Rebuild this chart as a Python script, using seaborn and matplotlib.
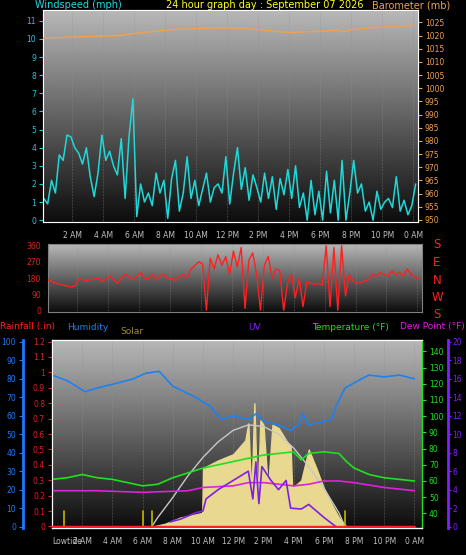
import numpy as np
import pandas as pd
import matplotlib
matplotlib.use("Agg")
import matplotlib.pyplot as plt
import seaborn as sns

sns.set_style("dark")
plt.rcParams["font.family"] = ["DejaVu Sans"]
plt.rcParams["font.size"] = 5.5

# ---- data ----
wind_speed = [1.2, 0.9, 2.2, 1.5, 3.6, 3.3, 4.7, 4.6, 4.0, 3.7, 3.1, 4.0,
              2.4, 1.3, 2.6, 4.7, 3.3, 3.8, 3.0, 2.5, 4.5, 1.2, 4.6, 6.7,
              0.2, 2.0, 1.0, 1.5, 0.8, 2.6, 1.5, 2.2, 0.1, 2.3, 3.3, 0.5,
              1.5, 3.5, 1.2, 2.2, 0.8, 1.7, 2.6, 1.0, 1.8, 2.0, 1.5, 3.5,
              0.9, 2.6, 4.0, 1.7, 2.9, 1.1, 2.5, 1.8, 1.0, 2.6, 1.2, 2.4,
              0.6, 2.3, 1.4, 2.8, 1.2, 3.0, 0.7, 1.5, 0.0, 2.2, 0.3, 1.6,
              0.0, 2.7, 0.4, 2.2, 0.0, 3.3, 0.0, 1.5, 3.3, 1.5, 2.0, 0.5,
              1.0, 0.0, 1.6, 0.6, 1.0, 1.2, 0.7, 2.4, 0.5, 1.1, 0.3, 0.8, 2.0]
wind_hours = [0.15 + 0.25 * i for i in range(len(wind_speed))]

baro_hours = [0, 1, 2, 3, 4, 5, 6, 7, 8, 9, 10, 11, 12, 13, 14, 15, 16, 17,
              18, 19, 19.5, 20, 21, 22, 23, 24]
baro_mb = [1019.0, 1019.2, 1019.5, 1019.6, 1019.8, 1020.0, 1020.8, 1021.4,
           1022.0, 1022.4, 1022.6, 1022.9, 1023.0, 1022.7, 1022.2, 1021.6,
           1021.2, 1021.4, 1021.6, 1022.0, 1021.5, 1022.2, 1022.8, 1023.2,
           1023.4, 1024.0]

dir_deg = [170, 160, 150, 145, 140, 135, 130, 135, 175, 170, 165, 170,
           175, 180, 160, 175, 190, 170, 150, 180, 200, 185, 170, 190,
           210, 180, 175, 200, 170, 190, 200, 175, 180, 165, 190, 200,
           180, 230, 250, 270, 260, 0, 290, 230, 310, 250, 300, 200,
           330, 240, 350, 10, 280, 320, 200, 0, 250, 300, 180, 230,
           220, 0, 150, 200, 70, 180, 20, 160, 150, 145, 150, 140,
           360, 20, 350, 0, 360, 80, 200, 160, 150, 155, 165, 170,
           200, 190, 210, 200, 190, 220, 200, 210, 190, 230, 200, 185, 175]
dir_hours = [0.1 + 0.25 * i for i in range(len(dir_deg))]

hum_hours = [0, 1, 2.2, 3, 4, 5.4, 6.2, 7.1, 8, 9, 9.5, 10.5, 11.2, 12, 13,
             13.5, 14, 15, 15.8, 16.3, 16.6, 17, 18, 18.5, 18.8, 19.4,
             20.5, 21, 22, 23, 24]
humidity = [82, 79, 73, 75, 77, 80, 83, 84, 76, 72, 70, 65, 58, 60, 58,
            61, 57, 55, 52, 55, 61, 55, 57, 58, 65, 75, 80, 82, 81, 82, 80]

temp_hours = [0, 1, 2, 3, 4, 5, 6, 7, 8, 9, 10, 11, 12, 13, 14, 15, 16,
              16.5, 17, 18, 19, 19.5, 20, 21, 22, 23, 24]
temperature = [61, 62, 64, 62, 61, 59, 57, 58, 62, 65, 68, 70, 72, 74, 76,
               77, 78, 73, 77, 78, 77, 72, 68, 64, 62, 61, 60]

dew_hours = [0, 3, 6, 9, 10, 12, 13, 14, 15, 16, 17, 18, 19, 20, 22, 24]
dew_point = [54, 54, 53, 54, 56, 57, 59, 59, 58, 57, 58, 60, 60, 59, 56, 54]

uv_hours = [7.8, 8.5, 9.5, 10.0, 10.2, 11, 12, 13, 13.3, 13.5, 13.7, 13.9,
            14.1, 14.5, 15, 15.5, 15.8, 16.5, 17, 18, 18.8]
uv_index = [0.5, 0.8, 1.5, 1.7, 3.0, 4.0, 5.0, 6.0, 3.0, 7.0, 2.5, 6.5,
            6.0, 5.0, 4.0, 5.0, 2.0, 1.9, 2.4, 1.0, 0.0]

solar_hours = [6.6, 7.5, 8.5, 9.5, 9.95, 10.0, 11, 12, 12.8, 13.0, 13.2,
               13.4, 13.6, 13.8, 14.0, 14.3, 14.6, 15.0, 15.5, 15.8, 15.9,
               16.5, 17, 17.5, 18, 18.5, 19, 19.5]
solar = [0, 20, 60, 80, 90, 380, 430, 470, 560, 670, 200, 800, 150, 690,
         660, 250, 660, 640, 560, 520, 250, 300, 500, 380, 250, 150, 60, 0]

clear_hours = [6.6, 7, 8, 9, 10, 11, 12, 13, 14, 15, 16, 17, 18, 19, 19.4]
clear_sky = [0, 60, 190, 330, 450, 550, 625, 660, 650, 600, 510, 390, 250,
             90, 0]

rain_hours = [0, 24]
rainfall = [0, 0]

tick_hours = [2, 4, 6, 8, 10, 12, 14, 16, 18, 20, 22, 24]
tick_labels = ["2 AM", "4 AM", "6 AM", "8 AM", "10 AM", "12 PM", "2 PM",
               "4 PM", "6 PM", "8 PM", "10 PM", "0 AM"]

W, H = 466, 555
fig = plt.figure(figsize=(W / 100, H / 100), dpi=100, facecolor="black")


def box(l, t, r, b):
    return [l / W, 1 - b / H, (r - l) / W, (b - t) / H]


grad = np.linspace(0.72, 0.05, 256).reshape(-1, 1)


def prep(ax, xlim):
    ax.set_facecolor("black")
    ax.imshow(grad, cmap="gray", vmin=0, vmax=1, aspect="auto",
              extent=[0, 1, 0, 1], transform=ax.transAxes, zorder=0)
    ax.set_xlim(*xlim)
    ax.grid(False)
    for s in ax.spines.values():
        s.set_color("#808080")
    ax.tick_params(axis="x", colors="#c0c0c0", labelsize=5.5, length=3)
    ax.set_xticks(tick_hours)
    ax.set_xticklabels(tick_labels)
    ax.set_xlabel("")
    for h in tick_hours:
        ax.axvline(h, color="#909090", lw=0.4, ls=":", zorder=0.5)


def ylabs(ax, color):
    ax.tick_params(axis="y", colors=color, labelsize=5.5, length=3, pad=2)
    ax.set_ylabel("")


# ---- panel 1: wind speed and barometer ----
ax1 = fig.add_axes(box(43, 10, 418, 222))
prep(ax1, (0.1, 24.3))
sns.lineplot(x=wind_hours, y=wind_speed, ax=ax1, color="#20d8d8", lw=1.1, zorder=3)
ax1.set_ylim(-0.1, 11.6)
ax1.set_yticks(range(0, 12))
ylabs(ax1, "#20c8e0")
ax1b = ax1.twinx()
sns.lineplot(x=baro_hours, y=baro_mb, ax=ax1b, color="#f0a050", lw=1.1, zorder=3)
ax1b.set_ylim(949.2, 1029.7)
ax1b.set_yticks(range(950, 1030, 5))
ylabs(ax1b, "#f0a050")
ax1b.grid(False)

# ---- panel 2: wind direction ----
ax2 = fig.add_axes(box(48, 244, 422, 312))
prep(ax2, (0.1, 24.3))
ax2.set_xticklabels([])
sns.lineplot(x=dir_hours, y=dir_deg, ax=ax2, color="#ff2020", lw=1.0, zorder=3)
ax2.set_ylim(-10, 370)
ax2.set_yticks([0, 90, 180, 270, 360])
ylabs(ax2, "#e02020")
for i, c in enumerate("SENWS"):
    fig.text(437 / W, 1 - (245 + i * 17.5) / H, c, color="#ff2020",
             fontsize=8.5, ha="center", va="center")

# ---- panel 3: rain, humidity, solar, uv, temperature, dew point ----
ax3 = fig.add_axes(box(52, 340, 422, 528))
prep(ax3, (0.0, 24.5))
ax3.set_ylim(-0.01, 1.21)
ax3.set_yticks(np.round(np.arange(0, 1.21, 0.1), 1))
ax3.set_yticklabels(["0"] + [f"{v:g}" for v in np.arange(0.1, 1.21, 0.1)])
ylabs(ax3, "#e02020")
ax3.spines["left"].set_color("#e02020")

axs = ax3.twinx()
axs.fill_between(solar_hours, solar, color="#e8d890", zorder=2)
sns.lineplot(x=clear_hours, y=clear_sky, ax=axs, color="#c8c8c8", lw=1.0, zorder=3)
axs.set_ylim(-8, 1210)
axs.axis("off")

axh = ax3.twinx()
axh.spines["left"].set_position(("outward", 21))
axh.spines["left"].set_visible(True)
axh.spines["left"].set_color("#1e78ff")
axh.spines["left"].set_linewidth(2)
axh.yaxis.set_label_position("left")
axh.yaxis.set_ticks_position("left")
sns.lineplot(x=hum_hours, y=humidity, ax=axh, color="#2080f0", lw=1.2, zorder=4)
axh.set_ylim(-0.8, 101)
axh.set_yticks(range(0, 101, 10))
ylabs(axh, "#1e78ff")

axt = ax3.twinx()
sns.lineplot(x=temp_hours, y=temperature, ax=axt, color="#20e020", lw=1.2, zorder=4)
sns.lineplot(x=dew_hours, y=dew_point, ax=axt, color="#e020e0", lw=1.2, zorder=4)
axt.set_ylim(31, 147)
axt.set_yticks(range(40, 141, 10))
ylabs(axt, "#20e020")
axt.spines["right"].set_color("#20e020")

axu = ax3.twinx()
axu.spines["right"].set_position(("outward", 19))
axu.spines["right"].set_color("#8020ff")
axu.spines["right"].set_linewidth(2)
sns.lineplot(x=uv_hours, y=uv_index, ax=axu, color="#8020e0", lw=1.2, zorder=5)
sns.lineplot(x=rain_hours, y=rainfall, ax=axu, color="#ff2020", lw=2.5, zorder=6)
for h in [0.8, 6.0, 6.6, 19.4]:
    axu.plot([h, h], [0, 1.7], color="#c8b400", lw=1.2)
axu.set_ylim(-0.15, 20.2)
axu.set_yticks(range(0, 21, 2))
axu.tick_params(axis="y", colors="#8020ff", labelsize=5.5, length=2, pad=1)

fig.text(52 / W, 1 - 541 / H, "Lowtide", color="#c0c0c0", fontsize=5.5,
         va="center")

# ---- titles ----
fig.text(35 / W, 1 - 5 / H, "Windspeed (mph)", color="#20d8e8", fontsize=7, va="center")
fig.text(265 / W, 1 - 5 / H, "24 hour graph day : September 07 2026",
         color="#ffff20", fontsize=7, va="center", ha="center")
fig.text(372 / W, 1 - 5 / H, "Barometer (mb)", color="#f0a050", fontsize=7, va="center")
fig.text(0, 1 - 327 / H, "Rainfall (.in)", color="#ff2020", fontsize=6.5, va="center")
fig.text(67 / W, 1 - 327 / H, "Humidity", color="#2080f0", fontsize=6.5, va="center")
fig.text(120 / W, 1 - 332 / H, "Solar", color="#a09020", fontsize=6.5, va="center")
fig.text(248 / W, 1 - 327 / H, "UV", color="#8020ff", fontsize=6.5, va="center")
fig.text(312 / W, 1 - 327 / H, "Temperature (°F)", color="#20e020", fontsize=6.5, va="center")
fig.text(465 / W, 1 - 327 / H, "Dew Point (°F)", color="#e020e0", fontsize=6.5,
         va="center", ha="right")

fig.savefig("out.png", dpi=100, facecolor="black")
